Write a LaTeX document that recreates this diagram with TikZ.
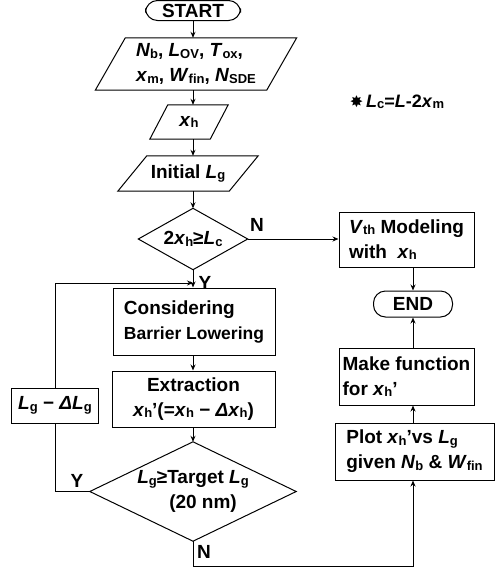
\documentclass[tikz,border=0pt]{standalone}
\usepackage{fontspec}
\setmainfont{Liberation Sans}
\newfontfamily\symfont{DejaVu Sans}
\usetikzlibrary{arrows.meta}
\newcommand\vsub[2]{\textit{#1}\raisebox{-1.5pt}{\fontsize{13}{13}\selectfont #2}}
\newcommand\drawpara[2]{\draw[line width=1pt] ([xshift=#2]#1.north west) -- ([xshift=#2]#1.north east) -- ([xshift=-#2]#1.south east) -- ([xshift=-#2]#1.south west) -- cycle;}
\newcommand\drawdiam[1]{\draw[line width=1pt] (#1.north) -- (#1.east) -- (#1.south) -- (#1.west) -- cycle;}
\tikzset{
  txt/.style={font=\fontsize{19}{25}\selectfont\bfseries, align=left, inner sep=0pt},
  proc/.style={txt, draw, line width=1pt},
  term/.style={txt, draw, line width=1pt, rounded corners=12pt},
  conn/.style={line width=1pt, -{Stealth[length=6pt,width=5pt]}},
  plain/.style={line width=1pt},
  lbl/.style={font=\fontsize{19}{22}\selectfont\bfseries, inner sep=0pt}
}
\begin{document}
\begin{tikzpicture}[x=1pt,y=-1pt]
\useasboundingbox (0,0) rectangle (496,568);
\coordinate (cx) at (193,0);
\coordinate (rx) at (413,0);
% left column
\node[term, minimum width=95pt, minimum height=20pt] (start) at (193,10.5) {START};
\node[txt, minimum width=171pt, minimum height=52pt] (params) at (196,64) {\vsub{N}{b}, \vsub{L}{OV}, \vsub{T}{ox},\\ \vsub{x}{m}, \vsub{W}{fin}, \vsub{N}{SDE}};
\drawpara{params}{15pt}
\node[txt, minimum width=60pt, minimum height=34pt] (xh) at (189,122) {\vsub{x}{h}};
\drawpara{xh}{9pt}
\node[txt, minimum width=111pt, minimum height=35pt] (init) at (188,173.5) {Initial \vsub{L}{g}};
\drawpara{init}{14.5pt}
\node[txt, minimum width=109pt, minimum height=61pt] (dec1) at (193,239) {2\vsub{x}{h}≥\vsub{L}{c}};
\drawdiam{dec1}
\node[proc, minimum width=162pt, minimum height=67pt] (cons) at (194,321.5) {Considering\\ {\fontsize{17.5}{25}\selectfont Barrier Lowering}};
\node[proc, minimum width=163pt, minimum height=56pt, align=center] (extr) at (193.5,399) {Extraction\\ \vsub{x}{h}’(=\vsub{x}{h} − \textit{Δ}\vsub{x}{h})};
\node[txt, minimum width=206pt, minimum height=99pt] (dec2) at (193,491.5) {\vsub{L}{g}≥Target \vsub{L}{g}\\ \hspace*{32pt}(20 nm)};
\drawdiam{dec2}
\node[proc, minimum width=87pt, minimum height=35pt] (lg) at (55,405.5) {\vsub{L}{g} − \textit{Δ}\vsub{L}{g}};
% right column
\node[proc, minimum width=135pt, minimum height=55pt] (vth) at (406.5,239.5) {\vsub{V}{th} Modeling\\ with~ \vsub{x}{h}};
\node[term, minimum width=79pt, minimum height=26pt] (end) at (413,304) {END};
\node[proc, minimum width=135pt, minimum height=57pt] (make) at (406.5,376.5) {Make function\\ for \vsub{x}{h}’};
\node[proc, minimum width=159pt, minimum height=57pt] (plot) at (414.5,451.5) {Plot \vsub{x}{h}’vs \vsub{L}{g}\\ given \vsub{N}{b} \& \vsub{W}{fin}};
% note
\node[txt, font=\fontsize{18}{20}\selectfont\bfseries] (note) at (397,102) {{\symfont\fontsize{16}{16}\selectfont ✸}\,\vsub{L}{c}=\textit{L}-2\vsub{x}{m}};
% labels
\node[lbl] (n1) at (257,225) {N};
\node[lbl] (y1) at (205,283) {Y};
\node[lbl] (y2) at (77,481) {Y};
\node[lbl] (n2) at (204,552) {N};
% coordinates
\coordinate (loopin) at (193,283);
\coordinate (bot) at (193,566);
% connectors
\draw[conn] (start.south) -- (cx |- params.north);
\draw[conn] (cx |- params.south) -- (cx |- xh.north);
\draw[conn] (cx |- xh.south) -- (cx |- init.north);
\draw[conn] (cx |- init.south) -- (dec1.north);
\draw[conn] (dec1.south) -- (cx |- cons.north);
\draw[conn] (cx |- cons.south) -- (cx |- extr.north);
\draw[conn] (cx |- extr.south) -- (dec2.north);
\draw[conn] (dec1.east) -- (dec1.east -| vth.west);
\draw[conn] (rx |- vth.south) -- (rx |- end.north);
\draw[conn] (rx |- make.north) -- (rx |- end.south);
\draw[conn] (rx |- plot.north) -- (rx |- make.south);
\draw[conn] (dec2.south) -- (bot) -| (rx |- plot.south);
\draw[plain] (dec2.west) -| (lg.south);
\draw[conn] (lg.north) -- (lg.north |- loopin) -- (loopin);
\end{tikzpicture}
\end{document}
